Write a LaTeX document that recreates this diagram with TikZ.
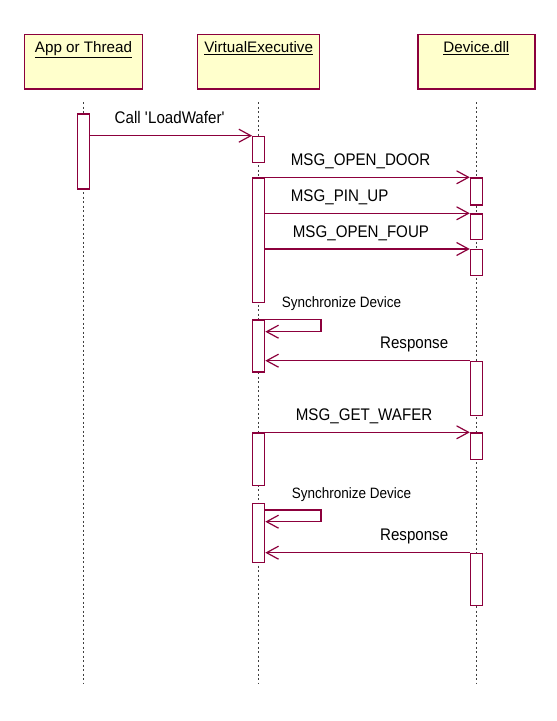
\documentclass[tikz,border=0pt]{standalone}
\usepackage{fontspec}
\setmainfont{Liberation Sans}
\newfontfamily\umlfont[FakeStretch=0.9]{Liberation Sans}
\usepackage{tikz}
\usetikzlibrary{arrows.meta,positioning}
\definecolor{umlline}{RGB}{140,0,60}
\definecolor{umlfill}{RGB}{255,255,204}

\begin{document}
\begin{tikzpicture}[x=1pt,y=-1pt,>={Straight Barb[length=12pt,width=13pt]},
	msg/.style={->,color=umlline,line width=1.2pt},
	msgtext/.style={pos=0,anchor=base west,yshift=12pt,inner sep=0pt,text=black,font=\umlfont\fontsize{16.8}{20}\selectfont},
	synctext/.style={msgtext,font=\umlfont\fontsize{15}{18}\selectfont}]
	\tikzset{head/.style={draw=umlline,fill=umlfill,line width=1.2pt,minimum height=54.4pt,inner sep=0pt}}
	\tikzset{bar/.style={draw=umlline,fill=white,line width=1.2pt,minimum width=12pt,anchor=north,inner sep=0pt}}
	\tikzset{lifeline/.style={draw=black!75,line width=1.2pt,dash pattern=on 2pt off 2.5pt}}
	\tikzset{headname/.style={anchor=base,yshift=-18.4pt,inner sep=0pt,font=\fontsize{15.2}{18}\selectfont}}
	\useasboundingbox (0,0) rectangle (557,721);

	% objects
	\node[head,minimum width=118pt,label={[headname]north:\underline{App or Thread}}] (app) at (83.5,61.8) {};
	\node[head,minimum width=122pt,right=54pt of app,label={[headname]north:\underline{VirtualExecutive}}] (ve) {};
	\node[head,minimum width=117pt,right=97pt of ve,label={[headname]north:\underline{Device.dll}}] (dev) {};

	% lifelines
	\draw[lifeline] (app |- 0,102) -- (app |- 0,683);
	\draw[lifeline] (ve |- 0,102) -- (ve |- 0,683);
	\draw[lifeline] (dev |- 0,102) -- (dev |- 0,683);

	% activations
	\node[bar,minimum height=75pt] (a1) at (app |- 0,113.3) {};
	\node[bar,minimum height=26pt] (v1) at (ve |- 0,135.7) {};
	\node[bar,minimum height=124.4pt] (v2) at (ve |- 0,177.3) {};
	\node[bar,minimum height=27pt] (d1) at (dev |- 0,177.3) {};
	\node[bar,minimum height=25.7pt] (d2) at (dev |- 0,213.3) {};
	\node[bar,minimum height=26pt] (d3) at (dev |- 0,249) {};
	\node[bar,minimum height=52pt] (v3) at (ve |- 0,319.3) {};
	\node[bar,minimum height=54pt] (d4) at (dev |- 0,360.7) {};
	\node[bar,minimum height=52.7pt] (v4) at (ve |- 0,432.3) {};
	\node[bar,minimum height=26.7pt] (d5) at (dev |- 0,432.3) {};
	\node[bar,minimum height=59.3pt] (v5) at (ve |- 0,502.7) {};
	\node[bar,minimum height=52.3pt] (d6) at (dev |- 0,552.7) {};

	\coordinate (s1) at (321,331.7);
	\coordinate (s2) at (321,521.7);

	% messages
	\path[msg]
		(a1.east |- v1.north)
			edge node[msgtext,xshift=24pt] {Call {\textquotesingle}LoadWafer{\textquotesingle}} (v1.north west)
		(v2.north east)
			edge node[msgtext,xshift=25pt] {MSG\_OPEN\_DOOR} (d1.north west)
		(v2.east |- d2.north)
			edge node[msgtext,xshift=25pt] {MSG\_PIN\_UP} (d2.north west)
		(v2.east |- d3.north)
			edge node[msgtext,xshift=27pt] {MSG\_OPEN\_FOUP} (d3.north west)
		(d4.north west)
			edge node[msgtext,anchor=base east,xshift=-21pt] {Response} (v3.east |- d4.north)
		(v4.north east)
			edge node[msgtext,xshift=30pt] {MSG\_GET\_WAFER} (d5.north west)
		(d6.north west)
			edge node[msgtext,anchor=base east,xshift=-21pt] {Response} (v5.east |- d6.north);
	\draw[msg] (v3.north east) -| node[synctext,xshift=16pt] {Synchronize Device} (s1) -- (v3.east |- s1);
	\draw[msg] (v5.east |- 0,510) -| node[synctext,xshift=26pt] {Synchronize Device} (s2) -- (v5.east |- s2);
\end{tikzpicture}
\end{document}
